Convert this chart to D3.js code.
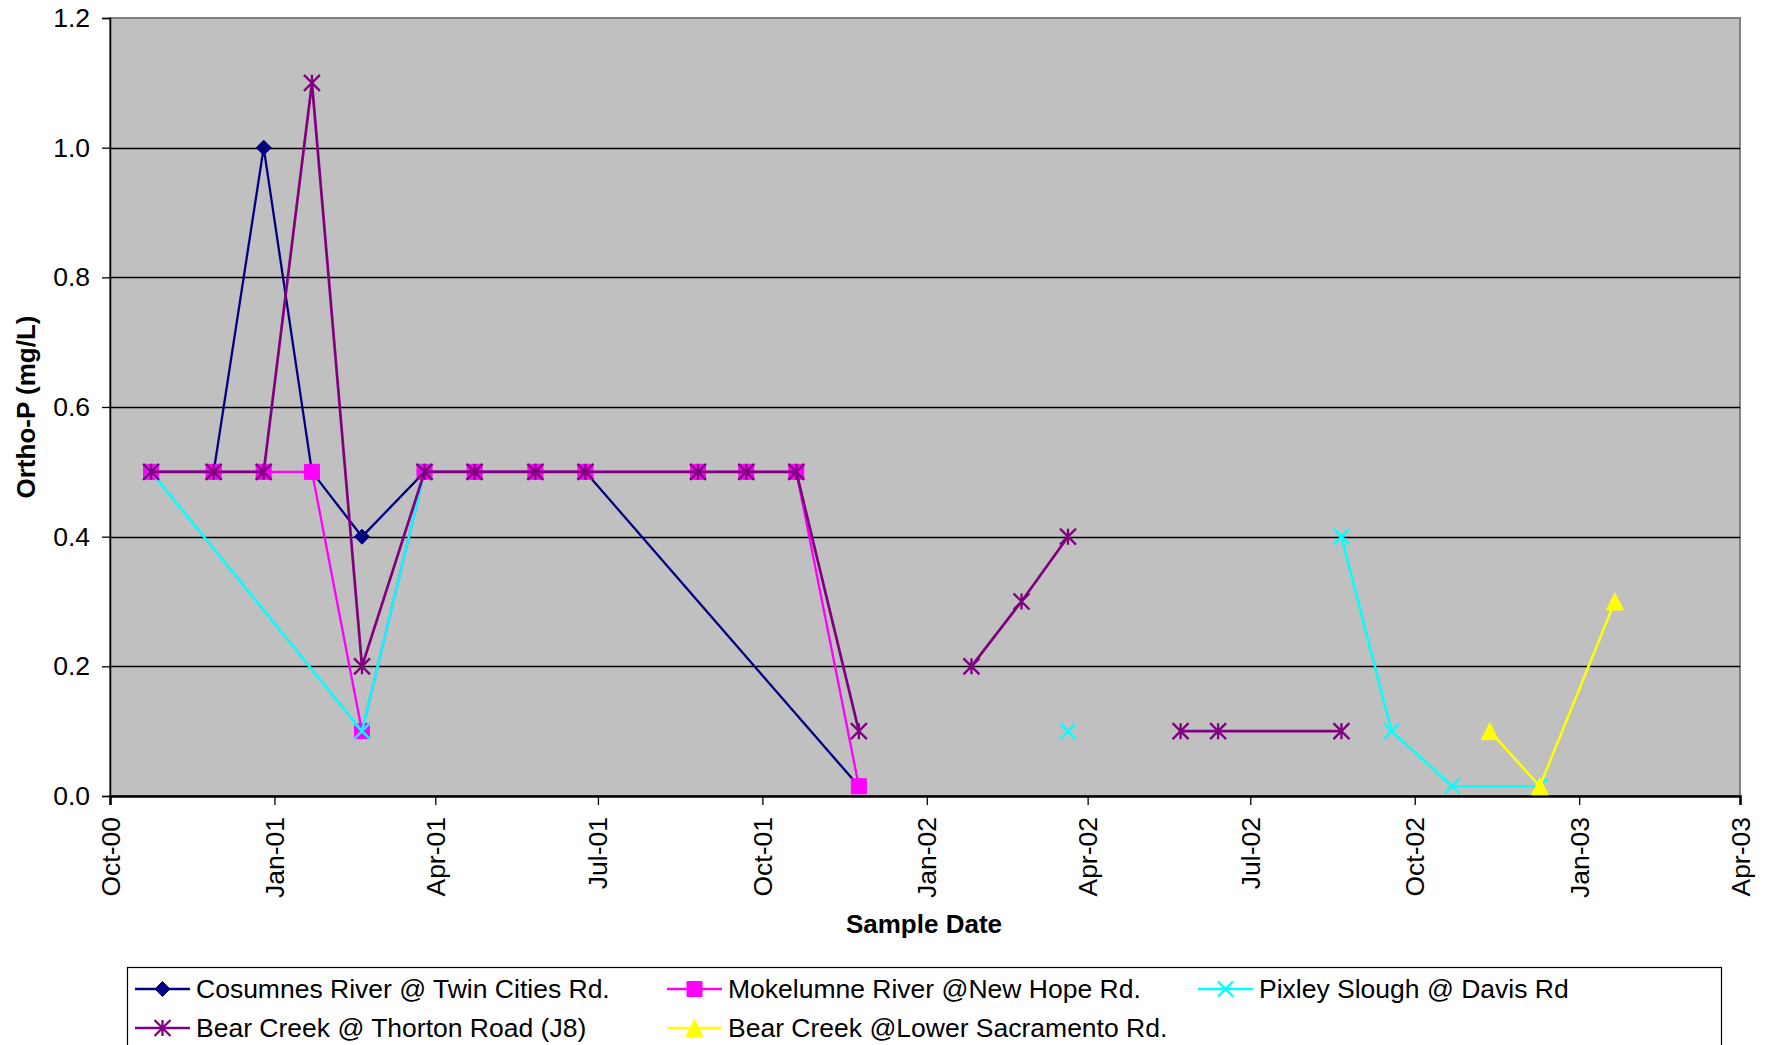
<!DOCTYPE html>
<html>
<head>
<meta charset="utf-8">
<script src="https://cdn.jsdelivr.net/npm/d3@7"></script>
<style>
  html, body { margin: 0; padding: 0; background: #ffffff; }
  svg { display: block; }
  text { font-family: "Liberation Sans", Arial, sans-serif; fill: #000; }
</style>
</head>
<body>
<svg id="chart" width="1767" height="1045"></svg>
<script>
// ---------------- DATA ----------------
const seriesNames = [
  "Cosumnes River @ Twin Cities Rd.",
  "Mokelumne River @New Hope Rd.",
  "Pixley Slough @ Davis Rd",
  "Bear Creek @ Thorton Road (J8)",
  "Bear Creek @Lower Sacramento Rd."
];

const cosumnesDates = ["2000-10-24","2000-11-28","2000-12-26","2001-01-22","2001-02-19","2001-03-26","2001-04-23","2001-05-27","2001-06-24","2001-11-24"];
const cosumnesValues = [0.5, 0.5, 1.0, 0.5, 0.4, 0.5, 0.5, 0.5, 0.5, 0.015];

const mokelumneDates = ["2000-10-24","2000-11-28","2000-12-26","2001-01-22","2001-02-19","2001-03-26","2001-04-23","2001-05-27","2001-06-24","2001-08-26","2001-09-22","2001-10-20","2001-11-24"];
const mokelumneValues = [0.5, 0.5, 0.5, 0.5, 0.1, 0.5, 0.5, 0.5, 0.5, 0.5, 0.5, 0.5, 0.015];

// null = gap in the series (no line drawn across)
const pixleyDates = ["2000-10-24","2001-02-19","2001-03-26","2001-06-24","2002-03-21","2002-05-22","2002-08-21","2002-09-18","2002-10-22","2002-12-10"];
const pixleyValues = [0.5, 0.1, 0.5, null, 0.1, null, 0.4, 0.1, 0.015, 0.015];

const bearJ8Dates = ["2000-10-24","2000-11-28","2000-12-26","2001-01-22","2001-02-19","2001-03-26","2001-04-23","2001-05-27","2001-06-24","2001-08-26","2001-09-22","2001-10-20","2001-11-24","2001-12-20","2002-01-26","2002-02-23","2002-03-21","2002-04-20","2002-05-23","2002-06-13","2002-08-21"];
const bearJ8Values = [0.5, 0.5, 0.5, 1.1, 0.2, 0.5, 0.5, 0.5, 0.5, 0.5, 0.5, 0.5, 0.1, null, 0.2, 0.3, 0.4, null, 0.1, 0.1, 0.1];

const bearLowerDates = ["2002-11-12","2002-12-10","2003-01-21"];
const bearLowerValues = [0.1, 0.015, 0.3];

const xDomain = ["2000-10-01","2003-04-01"];
const yTicks = [0, 0.2, 0.4, 0.6, 0.8, 1.0, 1.2];
const xTickLabels = ["Oct-00","Jan-01","Apr-01","Jul-01","Oct-01","Jan-02","Apr-02","Jul-02","Oct-02","Jan-03","Apr-03"];

const yTitle = "Ortho-P (mg/L)";
const xTitle = "Sample Date";

// ---------------- STYLE ----------------
const colors = ["#000080", "#FF00FF", "#00FFFF", "#800080", "#FFFF00"];
const markers = ["diamond", "square", "x", "asterisk", "triangle"];
const lineWidths = [2.3, 2.3, 2.5, 2.7, 2.5];

const parse = d3.timeParse("%Y-%m-%d");
const series = [
  [cosumnesDates, cosumnesValues],
  [mokelumneDates, mokelumneValues],
  [pixleyDates, pixleyValues],
  [bearJ8Dates, bearJ8Values],
  [bearLowerDates, bearLowerValues]
].map(([ds, vs], i) => ({
  name: seriesNames[i], color: colors[i], marker: markers[i], lw: lineWidths[i],
  points: ds.map((d, j) => ({ date: parse(d), v: vs[j] }))
}));

const svg = d3.select("#chart");
const L = 110, R = 1740, T = 18, B = 796;

const x = d3.scaleTime().domain(xDomain.map(parse)).range([L, R]);
const y = d3.scaleLinear().domain([0, 1.2]).range([B, T]);

// plot background
svg.append("rect").attr("x", L).attr("y", T).attr("width", R - L).attr("height", B - T)
  .attr("fill", "#C0C0C0").attr("stroke", "#808080").attr("stroke-width", 2);

// gridlines
svg.append("g").selectAll("line").data(yTicks.filter(d => d > 0 && d < 1.2)).join("line")
  .attr("x1", L).attr("x2", R).attr("y1", d => Math.round(y(d)) + 0.5).attr("y2", d => Math.round(y(d)) + 0.5)
  .attr("stroke", "#000").attr("stroke-width", 1.3);

// Y axis
const yAxis = svg.append("g").attr("transform", `translate(${L},0)`)
  .call(d3.axisLeft(y).tickValues(yTicks).tickFormat(d3.format(".1f")).tickSize(8).tickPadding(12));
yAxis.select(".domain").attr("stroke", "#000").attr("stroke-width", 1.5);
yAxis.selectAll(".tick line").attr("stroke", "#000").attr("stroke-width", 1.3);
yAxis.selectAll(".tick text").style("font-size", "26.5px").style("font-family", "Liberation Sans, Arial, sans-serif");

// X axis
const xTickDates = d3.timeMonth.every(3).range(parse(xDomain[0]), d3.timeDay.offset(parse(xDomain[1]), 1));
const xAxis = svg.append("g").attr("transform", `translate(0,${B})`)
  .call(d3.axisBottom(x).tickValues(xTickDates).tickFormat((d, i) => xTickLabels[i]).tickSize(9));
xAxis.select(".domain").attr("stroke", "#000").attr("stroke-width", 2.5);
xAxis.selectAll(".tick line").attr("stroke", "#000").attr("stroke-width", 1.3);
xAxis.selectAll(".tick text")
  .style("font-size", "26.5px").style("font-family", "Liberation Sans, Arial, sans-serif")
  .attr("text-anchor", "end").attr("dy", null).attr("y", 0).attr("x", 0)
  .attr("dominant-baseline", "central")
  .attr("transform", "translate(0,21) rotate(-90)");

// Axis titles
svg.append("text").attr("x", (L + R) / 2 - 1).attr("y", 933).attr("text-anchor", "middle")
  .style("font-size", "26px").style("font-weight", "bold").text(xTitle);
svg.append("text").attr("transform", `translate(35,${(T + B) / 2}) rotate(-90)`)
  .attr("text-anchor", "middle").style("font-size", "26px").style("font-weight", "bold").text(yTitle);

// marker path generator
function markerPath(type, s) {
  const h = s / 2;
  switch (type) {
    case "diamond": return `M0,${-h}L${h},0L0,${h}L${-h},0Z`;
    case "square": return `M${-h},${-h}H${h}V${h}H${-h}Z`;
    case "triangle": return `M0,${-h}L${h},${h}H${-h}Z`;
    case "x": return `M${-h},${-h}L${h},${h}M${h},${-h}L${-h},${h}`;
    case "asterisk": return `M${-h},${-h}L${h},${h}M${h},${-h}L${-h},${h}M0,${-h}V${h}`;
  }
}
const markerSize = { diamond: 15, square: 15, triangle: 17, x: 15, asterisk: 16 };
function drawMarker(g, type, color, cx, cy) {
  const filled = (type === "diamond" || type === "square" || type === "triangle");
  g.append("path").attr("d", markerPath(type, markerSize[type]))
    .attr("transform", `translate(${cx},${cy})`)
    .attr("fill", filled ? color : "none")
    .attr("stroke", color).attr("stroke-width", filled ? 1 : 2.3);
}

const line = d3.line().defined(d => d.v != null).x(d => x(d.date)).y(d => y(d.v));

const plot = svg.append("g");
series.forEach(s => {
  const g = plot.append("g");
  g.append("path").datum(s.points).attr("d", line)
    .attr("fill", "none").attr("stroke", s.color).attr("stroke-width", s.lw).attr("stroke-linejoin", "miter");
  s.points.filter(p => p.v != null).forEach(p => drawMarker(g, s.marker, s.color, x(p.date), y(p.v)));
});

// Legend
const lg = svg.append("g");
lg.append("rect").attr("x", 127.5).attr("y", 967.5).attr("width", 1594).attr("height", 120)
  .attr("fill", "#fff").attr("stroke", "#000").attr("stroke-width", 1.2);
const legendPos = [
  { lx: 135, ly: 989 }, { lx: 667, ly: 989 }, { lx: 1198, ly: 989 },
  { lx: 135, ly: 1028 }, { lx: 667, ly: 1028 }
];
series.forEach((s, i) => {
  const p = legendPos[i];
  lg.append("line").attr("x1", p.lx).attr("x2", p.lx + 55).attr("y1", p.ly).attr("y2", p.ly)
    .attr("stroke", s.color).attr("stroke-width", 2.5);
  drawMarker(lg, s.marker, s.color, p.lx + 27.5, p.ly);
  lg.append("text").attr("x", p.lx + 61).attr("y", p.ly).attr("dominant-baseline", "central")
    .style("font-size", "26.5px").text(s.name);
});
</script>
</body>
</html>
